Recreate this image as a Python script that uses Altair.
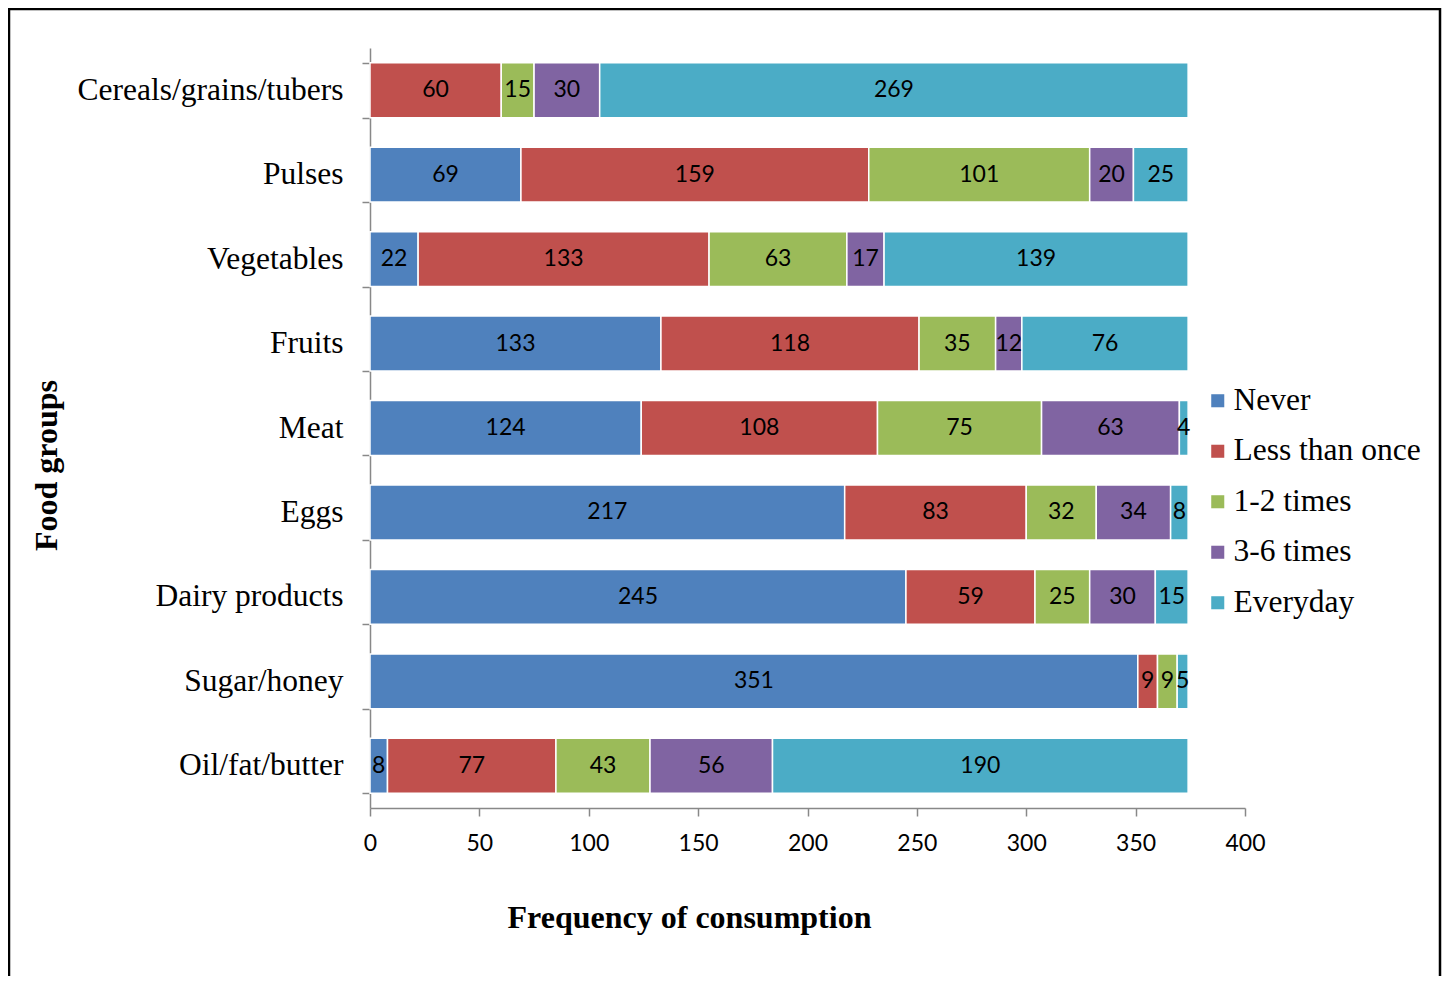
import altair as alt
import pandas as pd

foods = ["Cereals/grains/tubers", "Pulses", "Vegetables", "Fruits", "Meat",
         "Eggs", "Dairy products", "Sugar/honey", "Oil/fat/butter"]
freqs = ["Never", "Less than once", "1-2 times", "3-6 times", "Everyday"]
colors = ["#4F81BD", "#C0504D", "#9BBB59", "#8064A2", "#4BACC6"]

never = [0, 69, 22, 133, 124, 217, 245, 351, 8]
less_than_once = [60, 159, 133, 118, 108, 83, 59, 9, 77]
one_two = [15, 101, 63, 35, 75, 32, 25, 9, 43]
three_six = [30, 20, 17, 12, 63, 34, 30, 0, 56]
everyday = [269, 25, 139, 76, 4, 8, 15, 5, 190]

series = [never, less_than_once, one_two, three_six, everyday]
rows = []
for si, (f, vals) in enumerate(zip(freqs, series)):
    for fi, food in enumerate(foods):
        rows.append({"food": food, "freq": f, "order": si, "value": vals[fi]})
df = pd.DataFrame(rows)
df = df[df["value"] > 0]

SERIF = "Liberation Serif"
SANS = "Lato"

base = alt.Chart(df).transform_stack(
    stack="value", groupby=["food"], as_=["x0", "x1"],
    sort=[alt.SortField("order", order="ascending")]
).transform_calculate(mid="(datum.x0 + datum.x1) / 2")

yenc = alt.Y("food:N", sort=foods,
             scale=alt.Scale(paddingInner=0.35, paddingOuter=0.175),
             axis=alt.Axis(title="Food groups", titleFont=SERIF, titleFontSize=32,
                           titleFontWeight="bold", titleColor="black",
                           titleAngle=270, titleX=-324, titleY=417,
                           titleBaseline="middle", titleAlign="center",
                           labelFont=SERIF, labelFontSize=31.5, labelColor="black",
                           labelPadding=19, tickSize=8, tickBand="extent",
                           domainColor="#888888", tickColor="#888888",
                           domainWidth=1.5, tickWidth=1.5, labelLimit=400))

xscale = alt.Scale(domain=[0, 400], nice=False)

bars = base.mark_bar(stroke="white", strokeWidth=1.5).encode(
    y=yenc,
    x=alt.X("x0:Q", scale=xscale,
            axis=alt.Axis(title="Frequency of consumption", titleFont=SERIF,
                          titleFontSize=32, titleFontWeight="bold", titleColor="black",
                          titleX=319, titleY=109, titleBaseline="middle",
                          titleAlign="center",
                          values=[0, 50, 100, 150, 200, 250, 300, 350, 400],
                          labelFont=SANS, labelFontSize=23, labelColor="black",
                          labelPadding=16, labelFlush=False, tickSize=8, grid=False,
                          domainColor="#888888", tickColor="#888888",
                          domainWidth=1.5, tickWidth=1.5)),
    x2="x1:Q",
    color=alt.Color("freq:N", sort=freqs,
                    scale=alt.Scale(domain=freqs, range=colors),
                    legend=alt.Legend(title=None, orient="none", legendX=832,
                                      legendY=337, labelFont=SERIF,
                                      labelFontSize=31.5, labelColor="black",
                                      symbolType="square", symbolSize=170,
                                      symbolStrokeWidth=0, rowPadding=17.5,
                                      labelOffset=0, labelLimit=400)),
)

labels = base.mark_text(font=SANS, fontSize=23, color="black", baseline="middle").encode(
    y=alt.Y("food:N", sort=foods),
    x=alt.X("mid:Q", scale=xscale),
    text="value:Q",
)

frame_df = pd.DataFrame({"k": [0]})
frame = alt.Chart(frame_df).mark_rect(fillOpacity=0, stroke="black", strokeWidth=2.5).encode(
    x=alt.value(-361), x2=alt.value(1070), y=alt.value(-39), y2=alt.value(1100)
)

chart = alt.layer(bars, labels, frame).properties(
    width=875, height=760,
    autosize=alt.AutoSizeParams(type="none"),
    padding={"left": 362, "top": 40, "right": 197, "bottom": 168},
).configure_view(stroke=None)

chart.save("out.html", embed_options={"renderer": "svg", "actions": False})
